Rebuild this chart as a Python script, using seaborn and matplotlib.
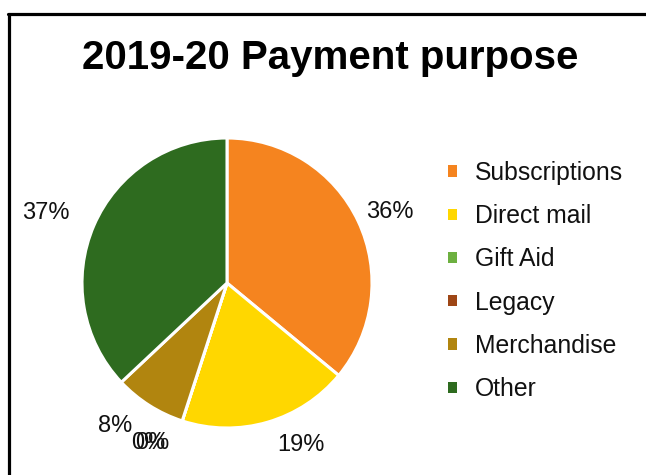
import numpy as np
import matplotlib
matplotlib.use("Agg")
import matplotlib.pyplot as plt
from matplotlib.lines import Line2D
from matplotlib.patches import Patch
import seaborn as sns

# Data
categories = ["Subscriptions", "Direct mail", "Gift Aid", "Legacy", "Merchandise", "Other"]
shares = [36, 19, 0, 0, 8, 37]
colors = ["#F5841F", "#FFD700", "#6DB040", "#9E4616", "#B1850F", "#2E6B1F"]
title = "2019-20 Payment purpose"

# per-slice label placement (style): radius and angular nudge in degrees
label_r = [1.226, 1.228, 1.230, 1.218, 1.252, 1.338]
label_dang = [-1.7, 8.3, -8.3, -7.1, -5.7, 2.2]

sns.set_theme(style="white")
plt.rcParams["font.family"] = ["Liberation Sans", "DejaVu Sans"]
plt.rcParams["text.color"] = "black"

fig = plt.figure(figsize=(6.46, 4.75), dpi=100)
fig.patch.set_facecolor("white")

L = 1.5
R_PX = 145
cx, cy = 227, 283
W, H = 646, 475
size = 2 * L * R_PX
ax = fig.add_axes([(cx - size / 2) / W, (H - cy - size / 2) / H, size / W, size / H])

wedges, texts, autotexts = ax.pie(
    shares,
    colors=colors,
    startangle=90,
    counterclock=False,
    autopct="%1.0f%%",
    pctdistance=1.24,
    wedgeprops=dict(edgecolor="white", linewidth=2.2),
    textprops=dict(fontsize=17, color="#111111"),
)
for w, t, r, d in zip(wedges, autotexts, label_r, label_dang):
    ang = np.deg2rad((w.theta1 + w.theta2) / 2 + d)
    t.set_position((r * np.cos(ang), r * np.sin(ang)))
    t.set_ha("center")
    t.set_va("center")

ax.set_xlim(-L, L)
ax.set_ylim(-L, L)
ax.set_aspect("equal")
ax.axis("off")

fig.text(0.511, 1 - 58 / H, title, ha="center", va="center",
         fontsize=29, fontweight="bold", color="black")

handles = [Patch(facecolor=c, edgecolor="none") for c in colors]
fig.legend(handles, categories, loc="center left",
           bbox_to_anchor=(436 / W, 1 - 281 / H),
           frameon=False, fontsize=17.8, borderpad=0,
           handlelength=0.33, handleheight=0.33, handletextpad=0.75,
           labelspacing=0.78, labelcolor="#111111")

# frame lines (decoration)
fig.add_artist(Line2D([8.5 / W, 8.5 / W], [0, 1 - 13.5 / H],
                      transform=fig.transFigure, color="black", lw=2.3))
fig.add_artist(Line2D([7.5 / W, 1], [1 - 13.5 / H, 1 - 13.5 / H],
                      transform=fig.transFigure, color="black", lw=2.3))

fig.savefig("out.png", dpi=100, facecolor="white")
